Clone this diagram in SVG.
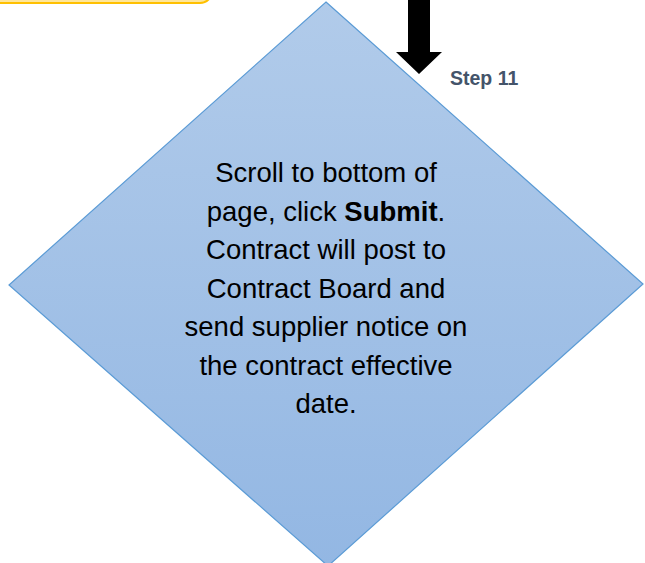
<svg xmlns="http://www.w3.org/2000/svg" width="645" height="563" viewBox="0 0 645 563">
<defs>
<linearGradient id="g" x1="0" y1="0" x2="0" y2="1">
<stop offset="0" stop-color="#b1cbea"/>
<stop offset="1" stop-color="#93b7e3"/>
</linearGradient>
<style>
.t{font-family:"Liberation Sans",Arial,sans-serif;font-size:27.5px;fill:#000;text-anchor:middle}
.b{font-weight:bold}
.s{font-family:"Liberation Sans",Arial,sans-serif;font-size:19.5px;font-weight:bold;fill:#44546a}
</style>
</defs>
<rect width="645" height="563" fill="#fff"/>
<g id="prev-step">
<rect x="-20" y="-40" width="232" height="43" rx="12" fill="#ffe699" stroke="#ffc000" stroke-width="2"/>
</g>
<g id="connectors">
<path d="M408,0 L430,0 L430,52 L442,52 L419,74 L396,52 L408,52 Z" fill="#000"/>
<text class="s" x="450" y="85">Step 11</text>
</g>
<g id="step11">
<path d="M326,2 L643,284 L328,566 L9,285 Z" fill="url(#g)" stroke="#5b9bd5" stroke-width="1.2"/>
<text class="t" x="326" y="182">Scroll to bottom of</text>
<text class="t" x="326" y="220.5">page, click <tspan class="b">Submit</tspan>.</text>
<text class="t" x="326" y="259">Contract will post to</text>
<text class="t" x="326" y="297.5">Contract Board and</text>
<text class="t" x="326" y="336">send supplier notice on</text>
<text class="t" x="326" y="374.5">the contract effective</text>
<text class="t" x="326" y="413">date.</text>
</g>
</svg>
